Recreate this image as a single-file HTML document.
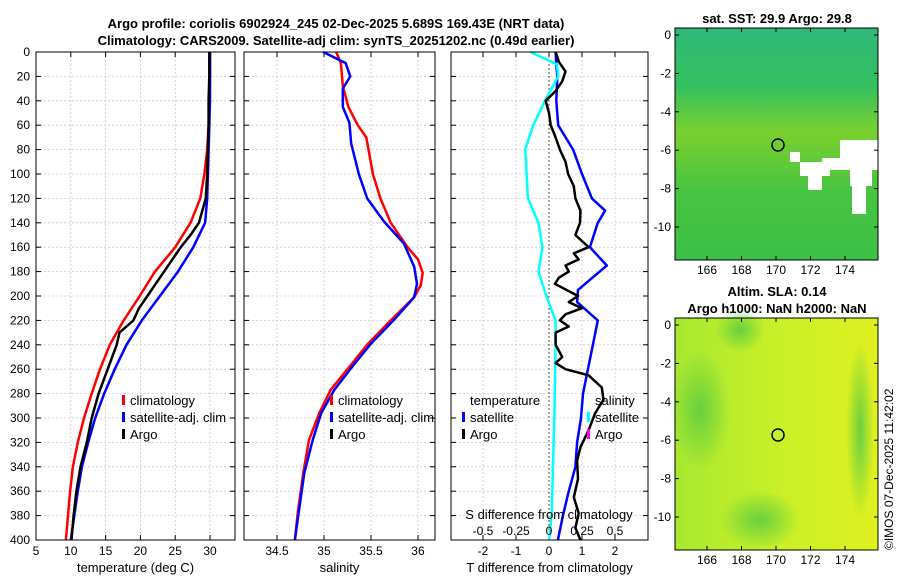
<!DOCTYPE html>
<html><head><meta charset="utf-8"><style>
html,body{margin:0;padding:0;background:#fff;}
svg{display:block;font-family:"Liberation Sans","DejaVu Sans",sans-serif;}
</style></head><body>
<svg id="fig" width="900" height="580" viewBox="0 0 900 580" xmlns="http://www.w3.org/2000/svg">
<defs>
<linearGradient id="sstg" x1="0" y1="0" x2="0" y2="1">
<stop offset="0" stop-color="#2fb878"/><stop offset="0.25" stop-color="#34c060"/><stop offset="0.45" stop-color="#7ad030"/><stop offset="0.7" stop-color="#48c440"/><stop offset="1" stop-color="#3cc048"/>
</linearGradient>
<linearGradient id="slag" x1="0" y1="0" x2="1" y2="0">
<stop offset="0" stop-color="#a8e830"/><stop offset="0.5" stop-color="#c8f028"/><stop offset="1" stop-color="#e0f020"/>
</linearGradient>
<radialGradient id="blob"><stop offset="0" stop-color="#60cc40" stop-opacity="0.9"/><stop offset="1" stop-color="#60cc40" stop-opacity="0"/></radialGradient>
</defs>
<g id="titles" font-weight="bold" font-size="13" text-anchor="middle">
<text x="336" y="28">Argo profile: coriolis 6902924_245 02-Dec-2025 5.689S 169.43E (NRT data)</text>
<text x="336" y="45">Climatology: CARS2009. Satellite-adj clim: synTS_20251202.nc (0.49d earlier)</text>
</g>
<g id="plots"></g>
<g id="maps">
<rect x="675" y="28" width="203" height="232" fill="url(#sstg)"/>
<g fill="#fff">
<rect x="840" y="140" width="38" height="20"/><rect x="822" y="158" width="56" height="12"/><rect x="850" y="170" width="22" height="16"/>
<rect x="800" y="162" width="30" height="14"/><rect x="808" y="176" width="14" height="14"/><rect x="852" y="186" width="14" height="28"/>
<rect x="790" y="152" width="10" height="10"/>
</g>
<rect x="675" y="318" width="203" height="232" fill="url(#slag)"/>
<ellipse cx="700" cy="410" rx="30" ry="60" fill="url(#blob)"/>
<ellipse cx="740" cy="330" rx="25" ry="22" fill="url(#blob)"/>
<ellipse cx="760" cy="520" rx="40" ry="30" fill="url(#blob)"/>
<ellipse cx="860" cy="430" rx="14" ry="90" fill="url(#blob)"/>
<rect x="675" y="28" width="203" height="232" fill="none" stroke="#000"/>
<rect x="675" y="318" width="203" height="232" fill="none" stroke="#000"/>
<circle cx="778" cy="145" r="6" fill="none" stroke="#000" stroke-width="1.5"/>
<circle cx="778" cy="435" r="6" fill="none" stroke="#000" stroke-width="1.5"/>
<text x="777" y="23" font-size="13" font-weight="bold" text-anchor="middle">sat. SST: 29.9 Argo: 29.8</text>
<text x="777" y="296" font-size="13" font-weight="bold" text-anchor="middle">Altim. SLA: 0.14</text>
<text x="777" y="313" font-size="13" font-weight="bold" text-anchor="middle">Argo h1000: NaN h2000: NaN</text>
<text transform="translate(893,550) rotate(-90)" font-size="12">©IMOS 07-Dec-2025 11:42:02</text>
</g>
</svg>
<script>
// ---- data ----
const depths = [0,20,40,60,80,100,120,140,160,180,200,220,240,260,280,300,320,340,360,380,400];
const tempClim = [30,30,29.9,29.8,29.6,29.2,28.6,27.2,25,22.1,19.9,17.6,15.6,14.2,13,11.9,11,10.3,9.9,9.6,9.3];
const tempSat = [30,30,30,29.9,29.8,29.7,29.6,29.3,27.6,25.4,22.8,20.2,18,16.3,14.8,13.5,12.5,11.6,11,10.5,10];
const argoDepths = [0,20,40,60,80,100,120,140,150,160,170,180,190,200,210,220,230,240,260,280,300,320,340,360,380,400];
const tempArgo = [29.9,29.9,29.8,29.8,29.7,29.6,29.4,28.4,27.2,25.8,24.6,23.4,22.2,21,19.8,19,17,16.6,15.3,14,13,12.3,11.4,10.8,10.4,10.1];
const salClimDepths = [0,9,28,45,60,70,100,120,140,160,170,181,191,201,220,239,259,277,296,318,345,378,400];
const salClim = [35.13,35.18,35.2,35.26,35.36,35.45,35.52,35.6,35.71,35.89,36.0,36.05,36.03,35.96,35.71,35.47,35.26,35.07,34.95,34.84,34.78,34.72,34.69];
const salSatDepths = [0,9,20,30,45,58,75,100,120,139,157,176,190,201,220,239,259,277,296,318,345,378,400];
const salSat = [34.99,35.23,35.28,35.2,35.2,35.27,35.29,35.37,35.46,35.64,35.85,35.96,35.99,35.96,35.74,35.5,35.29,35.11,34.97,34.88,34.79,34.73,34.69];
const dDepthsT = [0,10,20,40,60,80,100,120,130,140,160,175,195,205,220,240,280,300,320,340,360,380,400];
const tDiffSat = [0.2,0.22,0.25,0.22,0.28,0.73,1.0,1.3,1.7,1.48,1.24,1.75,0.88,0.85,1.48,1.33,1.03,0.97,0.85,0.8,0.6,0.42,0.27];
const dDepthsS = [0,10,20,40,60,80,100,120,140,160,180,200,220,240,300,380,400];
const sDiffSat = [-0.14,0.06,0.07,-0.03,-0.12,-0.18,-0.17,-0.16,-0.08,-0.05,-0.08,-0.02,0.05,0.05,0.04,0.02,0];
const dDepthsA = [0,8,16,24,32,40,50,60,70,80,90,100,110,120,130,140,150,160,165,170,175,180,185,190,200,205,210,215,220,225,230,240,250,255,260,265,275,285,296,310,324,335,350,365,378,390,400];
const tDiffArgo = [0.2,0.3,0.5,0.4,0.2,-0.1,0.0,0.05,0.2,0.33,0.5,0.58,0.75,0.8,0.95,0.94,0.8,1.2,0.75,0.9,0.5,0.6,0.3,0.18,0.88,0.6,1.0,0.5,0.33,0.6,0.2,0.2,0.4,0.2,0.5,1.2,1.6,1.65,1.4,1.2,0.95,0.85,0.88,0.75,0.9,0.8,0.95];
const tempTicks = [5,10,15,20,25,30];
const salTicks = [34.5,35,35.5,36];
const tdTicks = [-2,-1,0,1,2];
const sdTicks = [-0.5,-0.25,0,0.25,0.5];
const sdTickLabels = ["-0.5","-0.25","0","0.25","0.5"];
const depthTicks = [0,20,40,60,80,100,120,140,160,180,200,220,240,260,280,300,320,340,360,380,400];
const mapXTicks = [166,168,170,172,174];
const mapYTicks = [0,-2,-4,-6,-8,-10];

const NS='http://www.w3.org/2000/svg';
const root=document.getElementById('plots');
function el(tag,attrs,parent){const e=document.createElementNS(NS,tag);for(const k in attrs)e.setAttribute(k,attrs[k]);(parent||root).appendChild(e);return e;}
const Y0=52,Y1=540;
const yD=d=>Y0+(d/400)*(Y1-Y0);
const panels=[
 {name:'temperature-panel',x0:36,x1:235,v0:5,v1:33.59,ticks:tempTicks,label:'temperature (deg C)'},
 {name:'salinity-panel',x0:244,x1:435,v0:34.149,v1:36.181,ticks:salTicks,label:'salinity'},
 {name:'difference-panel',x0:451,x1:648,v0:-2.97,v1:3.0,ticks:tdTicks,label:'T difference from climatology'}
];
panels.forEach(p=>{p.sx=v=>p.x0+(v-p.v0)/(p.v1-p.v0)*(p.x1-p.x0);});
const sdx=v=>549+v*132;
panels.forEach((p,i)=>{
 const g=el('g',{});
 
 
 el('rect',{x:p.x0,y:Y0,width:p.x1-p.x0,height:Y1-Y0,fill:'#fff'},g);
 depthTicks.forEach(d=>{const l=el('line',{x1:p.x0,x2:p.x1,y1:yD(d),y2:yD(d),stroke:'#c8c8e8','stroke-dasharray':'2,2','stroke-width':0.8},g);
  });
 p.ticks.forEach(t=>{const x=p.sx(t);
  el('line',{x1:x,x2:x,y1:Y0,y2:Y1,stroke:'#e0c0c0','stroke-dasharray':'2,2','stroke-width':0.8},g);
  el('line',{x1:x,x2:x,y1:Y1,y2:Y1-5,stroke:'#000'},g);
  el('line',{x1:x,x2:x,y1:Y0,y2:Y0+5,stroke:'#000'},g);
  const tx=el('text',{x:x,y:555,'font-size':12,'text-anchor':'middle'},g);tx.textContent=String(t);
  
 });
 depthTicks.forEach(d=>{el('line',{x1:p.x0,x2:p.x0+5,y1:yD(d),y2:yD(d),stroke:'#000'},g);el('line',{x1:p.x1,x2:p.x1-5,y1:yD(d),y2:yD(d),stroke:'#000'},g);});
 const lab=el('text',{x:(p.x0+p.x1)/2,y:572,'font-size':13,'text-anchor':'middle'},g);lab.textContent=p.label;
 
});
depthTicks.forEach(d=>{const t=el('text',{x:30,y:yD(d)+4,'font-size':12,'text-anchor':'end'});t.textContent=String(d);
 });
const zl=el('line',{x1:549,x2:549,y1:Y0,y2:Y1,stroke:'#333','stroke-dasharray':'1.5,2.5','stroke-width':1});

function line(xs,ds,fx,color,name,w){const d=xs.map((v,i)=>(i?'L':'M')+fx(v).toFixed(1)+','+yD(ds[i]).toFixed(1)).join('');
 const p=el('path',{d:d,fill:'none',stroke:color,'stroke-width':w||2.5,'stroke-linejoin':'round'});
 }
const P=panels;
line(tempClim,depths,P[0].sx,'#ff0000','temp-climatology-line');
line(tempSat,depths,P[0].sx,'#0000ff','temp-satellite-line');
line(tempArgo,argoDepths,P[0].sx,'#000','temp-argo-line');
line(salClim,salClimDepths,P[1].sx,'#ff0000','sal-climatology-line');
line(salSat,salSatDepths,P[1].sx,'#0000ff','sal-satellite-line');
line(tDiffSat,dDepthsT,P[2].sx,'#0000ff','tdiff-satellite-line');
line(sDiffSat,dDepthsS,sdx,'#00ffff','sdiff-satellite-line');
line(tDiffArgo,dDepthsA,P[2].sx,'#000','tdiff-argo-line');
const st=el('text',{x:549,y:519,'font-size':13,'text-anchor':'middle'});st.textContent='S difference from climatology';

sdTicks.forEach((v,i)=>{const t=el('text',{x:sdx(v),y:535,'font-size':12,'text-anchor':'middle'});t.textContent=sdTickLabels[i];
 });
panels.forEach(p=>{el('rect',{x:p.x0,y:Y0,width:p.x1-p.x0,height:Y1-Y0,fill:'none',stroke:'#000'});});
function leg(x,y,color,txt){const g=el('g',{});
 if(color)el('rect',{x:x-8,y:y-10,width:3,height:10,fill:color},g);
 const t=el('text',{x:x,y:y,'font-size':13},g);t.textContent=txt;}
leg(130,405,'#ff0000','climatology');leg(130,422,'#0000ff','satellite-adj. clim');leg(130,439,'#000','Argo');
leg(338,405,'#ff0000','climatology');leg(338,422,'#0000ff','satellite-adj. clim');leg(338,439,'#000','Argo');
leg(470,405,null,'temperature');leg(470,422,'#0000ff','satellite');leg(470,439,'#000','Argo');
leg(595,405,null,'salinity');leg(595,422,'#00ffff','satellite');leg(595,439,'#ff00ff','Argo');
const mroot=document.getElementById('maps');
const mx=v=>707+(v-166)*17.25;
[[28,260,35],[318,550,325]].forEach(([top,bot,y0])=>{
 mapYTicks.forEach(v=>{const y=y0-v*19.2;
  el('line',{x1:675,x2:679,y1:y,y2:y,stroke:'#000'},mroot);el('line',{x1:878,x2:874,y1:y,y2:y,stroke:'#000'},mroot);
  const t=el('text',{x:671,y:y+4,'font-size':12,'text-anchor':'end'},mroot);t.textContent=String(v);
  });
 mapXTicks.forEach(v=>{const x=mx(v);
  el('line',{x1:x,x2:x,y1:bot,y2:bot-4,stroke:'#000'},mroot);el('line',{x1:x,x2:x,y1:top,y2:top+4,stroke:'#000'},mroot);
  const t=el('text',{x:x,y:bot+14,'font-size':12,'text-anchor':'middle'},mroot);t.textContent=String(v);
  });
});
</script>
</body></html>
